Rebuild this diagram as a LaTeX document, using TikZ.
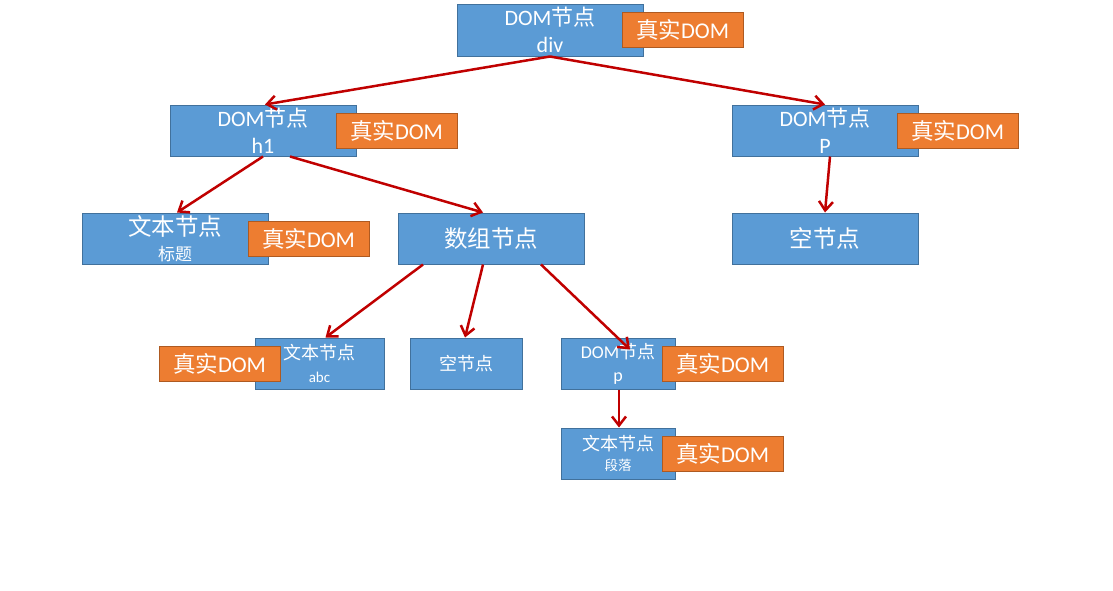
\documentclass[tikz,border=0pt]{standalone}
\usepackage{fontspec}
\setmainfont{Carlito}
\newfontfamily\cjk{Noto Sans CJK SC}
\usetikzlibrary{arrows.meta}
\definecolor{nodeblue}{HTML}{5B9BD5}
\definecolor{nodeedge}{HTML}{41719C}
\definecolor{realorange}{HTML}{ED7D31}
\definecolor{realedge}{HTML}{AE5A21}
\definecolor{linkred}{HTML}{C00000}
\newcommand{\fs}[2]{\fontsize{#1}{#2}\selectfont}
\newcommand{\zh}[1]{{\cjk #1}}
\tikzset{
  vbox/.style={draw=nodeedge, fill=nodeblue, line width=1pt, text=white,
    inner sep=0pt, align=center, minimum height=51pt},
  widebox/.style={vbox, minimum width=186pt},
  realbox/.style={draw=realedge, fill=realorange, line width=1pt, text=white,
    inner sep=0pt, minimum width=121pt, minimum height=35pt, font=\fs{22.5}{25}},
  link/.style={draw=linkred, line width=2.5pt,
    -{Straight Barb[length=9pt,width=14pt]}}
}
\begin{document}
\begin{tikzpicture}[x=1pt,y=-1pt]
\useasboundingbox (0,0) rectangle (1113,590);
% level 0
\node[widebox, minimum height=52pt, font=\fs{22}{27}] (div) at (550,30)
  {DOM\zh{节点}\\ div};
\node[realbox] (r1) at (682.5,30) {\zh{真实}DOM};
% level 1
\node[widebox, font=\fs{22}{27}] (h1) at (263,130.5) {DOM\zh{节点}\\ h1};
\node[realbox] (r2) at (396.5,130.5) {\zh{真实}DOM};
\node[widebox, font=\fs{22}{27}] (pp) at (825,130.5) {DOM\zh{节点}\\ P};
\node[realbox] (r3) at (957.5,130.5) {\zh{真实}DOM};
% level 2
\node[widebox, font=\fs{23.5}{25}] (t1) at (175,238.5)
  {\zh{文本节点}\\ {\fs{17}{20}\zh{标题}}};
\node[realbox] (r4) at (308.5,238.5) {\zh{真实}DOM};
\node[widebox, font=\fs{23.5}{28}] (arr) at (491,238.5) {\zh{数组节点}};
\node[widebox, font=\fs{23.5}{28}] (e1) at (825,238.5) {\zh{空节点}};
% level 3
\node[vbox, minimum width=129pt, font=\fs{18}{23}] (abc) at (319.5,363.5)
  {\zh{文本节点}\\ {\fs{15}{20}abc}};
\node[realbox] (r5) at (219.5,363.5) {\zh{真实}DOM};
\node[vbox, minimum width=112pt, font=\fs{18}{22}] (e2) at (466,363.5) {\zh{空节点}};
\node[vbox, minimum width=114pt, font=\fs{18}{23}] (pn) at (618,363.5)
  {DOM\zh{节点}\\ p};
\node[realbox] (r6) at (722.5,363.5) {\zh{真实}DOM};
% level 4
\node[vbox, minimum width=114pt, font=\fs{18}{20}] (para) at (618,453.5)
  {\zh{文本节点}\\ {\fs{13.5}{20}\zh{段落}}};
\node[realbox] (r7) at (722.5,453.5) {\zh{真实}DOM};
% connectors
\draw[link] (div.south) -- ([xshift=2pt]h1.north);
\draw[link] (div.south) -- (pp.north);
\draw[link] (h1.south) -- ([xshift=2pt]t1.north);
\draw[link] ([xshift=27pt]h1.south) -- ([xshift=-8pt]arr.north);
\draw[link] ([xshift=5pt]pp.south) -- (e1.north);
\draw[link] ([xshift=-68pt]arr.south) -- ([xshift=6pt]abc.north);
\draw[link] ([xshift=-8pt]arr.south) -- ([xshift=-1pt]e2.north);
\draw[link] ([xshift=50pt]arr.south) -- ([xshift=12pt,yshift=-12pt]pn.north);
\draw[link] ([xshift=1pt]pn.south) -- ([xshift=1pt]para.north);
\end{tikzpicture}
\end{document}
